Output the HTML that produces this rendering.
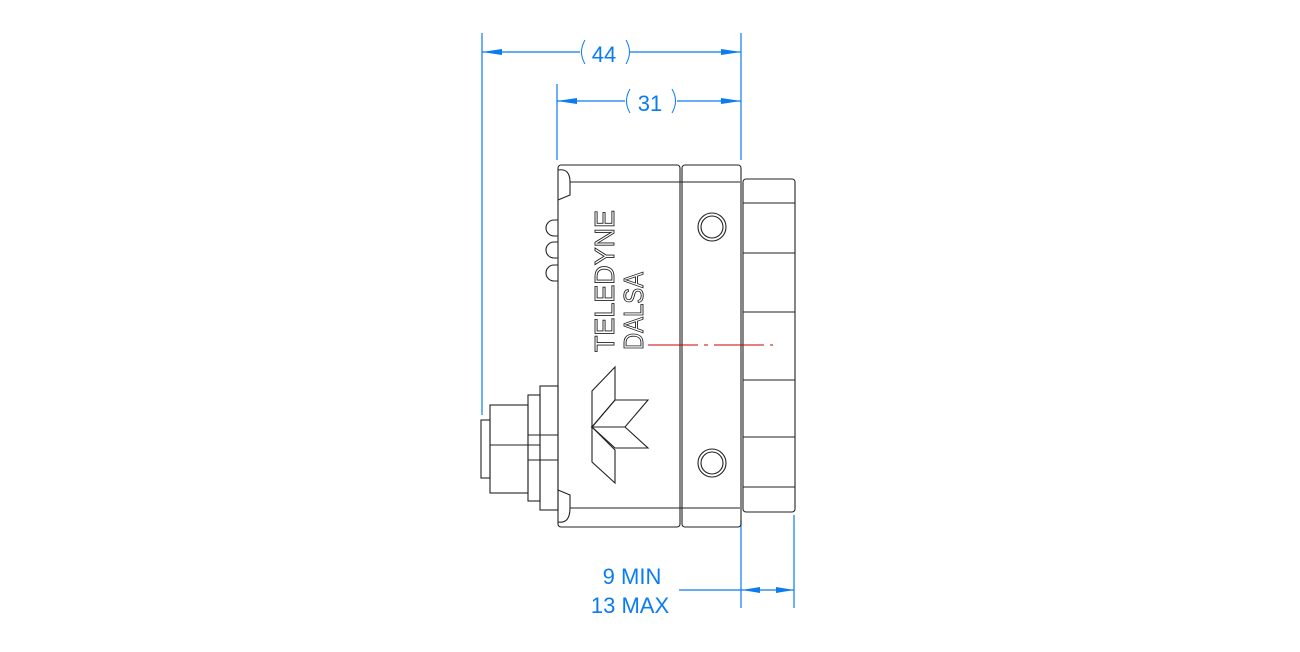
<!DOCTYPE html>
<html><head><meta charset="utf-8"><style>html,body{margin:0;padding:0;background:#fff}svg{display:block}</style></head>
<body>
<svg width="1300" height="652" viewBox="0 0 1300 652" xmlns="http://www.w3.org/2000/svg">
<g stroke="#0a7cf0" stroke-width="1.2" fill="none">
<line x1="482" y1="33" x2="482" y2="415"/>
<line x1="741" y1="33" x2="741" y2="160"/>
<line x1="557" y1="84" x2="557" y2="160"/>
<line x1="482" y1="52" x2="580" y2="52"/><line x1="630" y1="52" x2="741" y2="52"/>
<line x1="557" y1="101" x2="625" y2="101"/><line x1="677" y1="101" x2="741" y2="101"/>
<line x1="741" y1="520" x2="741" y2="608"/>
<line x1="794" y1="515" x2="794" y2="608"/>
<line x1="679" y1="590" x2="794" y2="590"/>
</g>
<g fill="#0a7cf0">
<polygon points="482,52 502,49 502,55"/><polygon points="741,52 721,49 721,55"/>
<polygon points="557,101 577,98 577,104"/><polygon points="741,101 721,98 721,104"/>
<polygon points="742,590 760,587 760,593"/><polygon points="794,590 776,587 776,593"/>
</g>
<g fill="#0a7cf0" font-family="Liberation Sans, sans-serif" font-size="22">
<text x="604" y="62" text-anchor="middle">44</text>
<text x="650" y="111" text-anchor="middle">31</text>
<text x="632" y="584" text-anchor="middle">9 MIN</text>
<text x="630" y="613" text-anchor="middle">13 MAX</text>
</g>
<g fill="none" stroke="#0a7cf0" stroke-width="1"><path d="M585,40 Q578,52 585,64"/><path d="M626,40 Q633,52 626,64"/><path d="M630,89 Q623,101 630,113"/><path d="M672,89 Q679,101 672,113"/></g>
<g stroke="#222" stroke-width="1.1" fill="none">
<rect x="558" y="165" width="122" height="362" rx="3"/>
<rect x="682" y="165" width="59" height="362" rx="3"/>
<line x1="570" y1="182" x2="740" y2="182"/><line x1="570" y1="508" x2="740" y2="508"/>
<path d="M558,170 Q570,168 570,182 L570,195 L558,200"/>
<path d="M558,522 Q570,524 570,508 L570,495 L558,490"/>
<rect x="743" y="179" width="52" height="333" rx="3"/>
<line x1="743" y1="203" x2="795" y2="203"/><line x1="743" y1="253" x2="795" y2="253"/>
<line x1="743" y1="312" x2="795" y2="312"/><line x1="743" y1="380" x2="795" y2="380"/>
<line x1="743" y1="437" x2="795" y2="437"/><line x1="743" y1="487" x2="795" y2="487"/>
<circle cx="712" cy="227" r="14"/><circle cx="712" cy="227" r="11"/>
<circle cx="712" cy="463" r="14"/><circle cx="712" cy="463" r="11"/>
<path d="M558,220 h-4 a4,4 0 0 0 0,16 h4"/><path d="M558,242 h-4 a4,4 0 0 0 0,16 h4"/><path d="M558,265 h-4 a4,4 0 0 0 0,16 h4"/>
<rect x="540" y="386" width="18" height="124"/>
<rect x="528" y="395" width="12" height="106"/>
<rect x="490" y="405" width="38" height="88"/>
<rect x="481" y="420" width="9" height="58"/>
<line x1="490" y1="445" x2="540" y2="445"/><line x1="528" y1="435" x2="558" y2="435"/><line x1="528" y1="460" x2="558" y2="460"/>
<polygon points="615,367 592,391 592,427 615,400"/>
<polygon points="615,400 648,400 625,427 592,427"/>
<polygon points="592,427 592,462 615,483 615,450"/>
<polygon points="592,427 625,427 648,448 615,448"/>
</g>
<g font-family="Liberation Sans, sans-serif" font-size="28" fill="none" stroke="#222" stroke-width="0.9">
<text transform="translate(614,352) rotate(-90)" textLength="142" lengthAdjust="spacingAndGlyphs">TELEDYNE</text>
<text transform="translate(643,350) rotate(-90)" textLength="78" lengthAdjust="spacingAndGlyphs">DALSA</text>
</g>
<line x1="648" y1="345" x2="773" y2="345" stroke="#c00" stroke-width="1" stroke-dasharray="50,6,4,6"/>
</svg>
</body></html>
